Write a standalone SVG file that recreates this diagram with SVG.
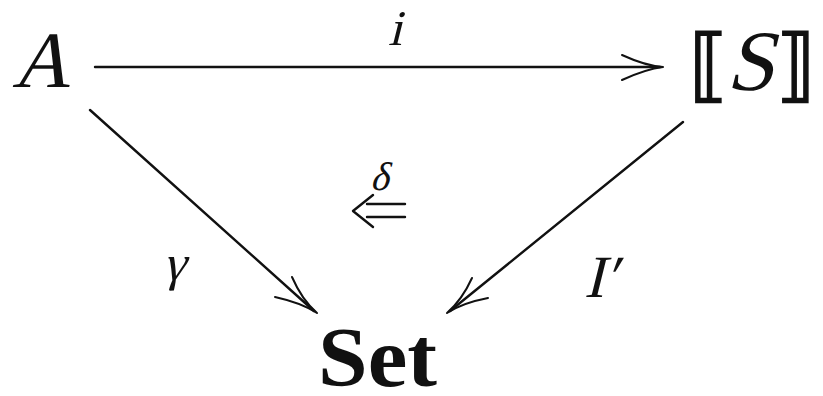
<svg xmlns="http://www.w3.org/2000/svg" width="823" height="396" viewBox="0 0 823 396">
<style>
.m{font-family:"Liberation Serif","Times New Roman",serif;fill:#111}
.b{font-family:"DejaVu Serif",serif;fill:#111;stroke:#111;stroke-width:1.6}
.c{fill:none;stroke:#111;stroke-width:2.4;stroke-linecap:round;stroke-linejoin:round}
.h{fill:none;stroke:#111;stroke-width:2;stroke-linecap:round}
</style>
<rect width="823" height="396" fill="#fff"/>
<g id="A"><g transform="translate(12 87) skewX(-14)"><text class="m" font-size="80">A</text></g></g>
<g id="S">
<text class="b" x="689" y="92" font-size="80">⟦</text>
<g transform="translate(726 90) skewX(-14)"><text class="m" font-size="86">S</text></g>
<text class="b" x="776" y="92" font-size="80">⟧</text>
</g>
<g id="Set"><text x="318" y="386" font-size="84" font-weight="bold" class="m" textLength="119" lengthAdjust="spacingAndGlyphs">Set</text></g>
<g id="connectors">
<path class="c" d="M95 67H660"/>
<path class="h" d="M622 55Q646 66 663 67M622 80Q646 69 663 67"/>
<g transform="translate(388 45) skewX(-14)"><text class="m" font-size="50">i</text></g>
<path class="c" d="M90 110L314 311"/>
<path class="h" d="M292 277Q302 300 317 313M275 297Q302 303 317 313"/>
<g transform="translate(163 280) skewX(-14)"><text class="m" font-size="50">γ</text></g>
<path class="c" d="M683 122L450 311"/>
<path class="h" d="M472 278Q462 300 447 313M488 298Q462 303 447 313"/>
<g transform="translate(584 297) skewX(-14)"><text class="m" font-size="60">I′</text></g>
<path class="c" d="M367 204H405M367 217H405M373 195L353 211L373 227"/>
<g transform="translate(370 190) skewX(-14)"><text class="m" font-size="40">δ</text></g>
</g>
</svg>
